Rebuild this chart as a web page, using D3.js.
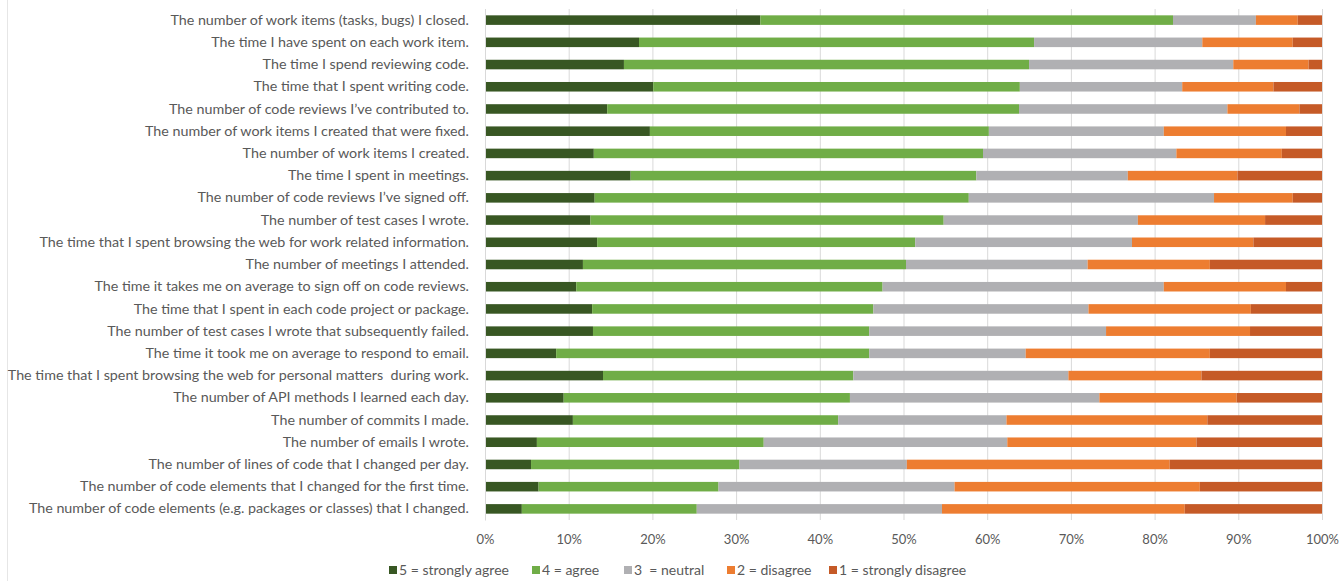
<!DOCTYPE html>
<html>
<head>
<meta charset="utf-8">
<script src="https://cdn.jsdelivr.net/npm/d3@7"></script>
<style>
    html, body { margin: 0; padding: 0; background: #fff; }
    svg { display: block; }
    text { font-family: Lato, "Open Sans", sans-serif; fill: #595959; white-space: pre; }
</style>
</head>
<body>
<svg id="chart" width="1341" height="581"></svg>
<script>
// categories, top to bottom
const statements = [
    "The number of work items (tasks, bugs) I closed.",
    "The time I have spent on each work item.",
    "The time I spend reviewing code.",
    "The time that I spent writing code.",
    "The number of code reviews I\u2019ve contributed to.",
    "The number of work items I created that were fixed.",
    "The number of work items I created.",
    "The time I spent in meetings.",
    "The number of code reviews I\u2019ve signed off.",
    "The number of test cases I wrote.",
    "The time that I spent browsing the web for work related information.",
    "The number of meetings I attended.",
    "The time it takes me on average to sign off on code reviews.",
    "The time that I spent in each code project or package.",
    "The number of test cases I wrote that subsequently failed.",
    "The time it took me on average to respond to email.",
    "The time that I spent browsing the web for personal matters  during work.",
    "The number of API methods I learned each day.",
    "The number of commits I made.",
    "The number of emails I wrote.",
    "The number of lines of code that I changed per day.",
    "The number of code elements that I changed for the first time.",
    "The number of code elements (e.g. packages or classes) that I changed."
];

// percentages per answer, same order as statements
const stronglyAgree = [32.9, 18.4, 16.6, 20.1, 14.6, 19.7, 13.0, 17.4, 13.1, 12.6, 13.4, 11.7,
    10.9, 12.8, 12.9, 8.5, 14.1, 9.4, 10.5, 6.2, 5.5, 6.4, 4.4];
const agree = [49.3, 47.2, 48.4, 43.8, 49.2, 40.5, 46.5, 41.3, 44.7, 42.2, 38.0, 38.6,
    36.6, 33.6, 33.0, 37.4, 29.9, 34.2, 31.7, 27.1, 24.9, 21.5, 20.9];
const neutral = [9.9, 20.1, 24.4, 19.4, 24.9, 20.9, 23.1, 18.1, 29.3, 23.2, 25.9, 21.7,
    33.6, 25.7, 28.3, 18.7, 25.7, 29.8, 20.1, 29.1, 20.0, 28.2, 29.3];
const disagree = [5.0, 10.8, 9.0, 10.9, 8.6, 14.6, 12.6, 13.1, 9.4, 15.2, 14.5, 14.6,
    14.6, 19.4, 17.2, 22.0, 15.9, 16.4, 24.0, 22.6, 31.4, 29.3, 29.0];
const stronglyDisagree = [2.9, 3.5, 1.6, 5.8, 2.7, 4.3, 4.8, 10.1, 3.5, 6.8, 8.2, 13.4,
    4.3, 8.5, 8.6, 13.4, 14.4, 10.2, 13.7, 15.0, 18.2, 14.6, 16.4];

const seriesNames = ["5 = strongly agree", "4 = agree", "3  = neutral", "2 = disagree", "1 = strongly disagree"];
const seriesColors = ["#385723", "#70ad47", "#b0b0b3", "#ed7d31", "#c55a27"];
const tickValues = [0, 10, 20, 30, 40, 50, 60, 70, 80, 90, 100];

const width = 1341, height = 581;
const margin = { top: 9, right: 19, bottom: 61, left: 485 };

const svg = d3.select("#chart");

const rows = statements.map((s, i) => ({
    label: s,
    [seriesNames[0]]: stronglyAgree[i],
    [seriesNames[1]]: agree[i],
    [seriesNames[2]]: neutral[i],
    [seriesNames[3]]: disagree[i],
    [seriesNames[4]]: stronglyDisagree[i]
}));

// normalise to 100% like excel does
const series = d3.stack()
    .keys(seriesNames)
    .offset(d3.stackOffsetExpand)(rows);

const x = d3.scaleLinear()
    .domain([0, 1])
    .range([margin.left, width - margin.right]);

const y = d3.scaleBand()
    .domain(statements)
    .range([margin.top, height - margin.bottom])
    .paddingInner(0.57)
    .paddingOuter(0.285);

const color = d3.scaleOrdinal().domain(seriesNames).range(seriesColors);

// outer border
svg.append("rect")
    .attr("x", 7.5).attr("y", -1)
    .attr("width", width - 7).attr("height", height + 2)
    .attr("fill", "none")
    .attr("stroke", "#e6e6e6");

// vertical gridlines
svg.append("g")
    .attr("transform", `translate(0,${height - margin.bottom})`)
    .call(d3.axisBottom(x)
        .tickValues(tickValues.map(t => t / 100))
        .tickSize(-(height - margin.bottom - margin.top))
        .tickFormat(""))
    .call(g => g.select(".domain").remove())
    .selectAll("line")
    .attr("stroke", "#d9d9d9")
    .attr("stroke-width", 1);

// bars
svg.append("g")
    .selectAll("g")
    .data(series)
    .join("g")
    .attr("fill", d => color(d.key))
    .selectAll("rect")
    .data(d => d)
    .join("rect")
    .attr("x", d => x(d[0]))
    .attr("y", d => y(d.data.label))
    .attr("width", d => x(d[1]) - x(d[0]))
    .attr("height", y.bandwidth());

// category axis
svg.append("g")
    .attr("transform", `translate(${margin.left},0)`)
    .call(d3.axisLeft(y).tickSize(0).tickPadding(16))
    .call(g => g.select(".domain").attr("stroke", "#d9d9d9"))
    .selectAll("text")
    .style("font-size", "14.3px")
    .style("fill", "#595959");

// percent axis labels
svg.append("g")
    .attr("transform", `translate(0,${height - margin.bottom})`)
    .call(d3.axisBottom(x)
        .tickValues(tickValues.map(t => t / 100))
        .tickSize(0)
        .tickPadding(15)
        .tickFormat(d => Math.round(d * 100) + "%"))
    .call(g => g.select(".domain").remove())
    .selectAll("text")
    .style("font-size", "13px")
    .style("fill", "#595959");

// legend
const legendX = [389, 532, 624, 727, 829];
const legend = svg.append("g")
    .selectAll("g")
    .data(seriesNames)
    .join("g")
    .attr("transform", (d, i) => `translate(${legendX[i]},566)`);
legend.append("rect")
    .attr("width", 8).attr("height", 8)
    .attr("fill", d => color(d));
legend.append("text")
    .attr("x", 10)
    .attr("y", 4)
    .attr("dy", "0.36em")
    .style("font-size", "14px")
    .text(d => d);
</script>
</body>
</html>
